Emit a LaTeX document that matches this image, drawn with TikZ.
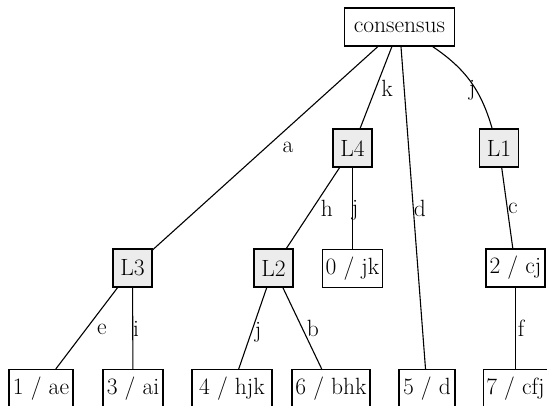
\documentclass[tikz,border=0pt]{standalone}
\usepackage{fontspec}
\usetikzlibrary{positioning}

\begin{document}
\begin{tikzpicture}[x=1pt, y=1pt, line width=1.1pt,
  leafstyle/.style = {rectangle, draw, minimum height=38pt, inner xsep=3pt},
  innerstyle/.style = {leafstyle, fill=gray!15, minimum width=39pt},
  labelstyle/.style = {inner sep=0pt}]
  \tikzstyle{every node}=[font=\rmfamily\fontsize{23.5}{27}\selectfont]
  \useasboundingbox (0,0) rectangle (547,406);

  % root
  \node[leafstyle, minimum width=110pt] (consensus) at (399.5,379) {consensus};

  % inner nodes
  \node[innerstyle] (L4) at (352.5,258) {L4};
  \node[innerstyle] (L1) at (499,258) {L1};
  \node[innerstyle] (L3) at (132.5,138) {L3};
  \node[innerstyle] (L2) at (273.5,138) {L2};

  % leaves, middle row
  \node[leafstyle, minimum width=59pt] (jk0) at (352.5,137.5) {0 / jk};
  \node[leafstyle, minimum width=59pt] (cj2) at (515.5,138) {2 / cj};

  % leaves, bottom row
  \node[leafstyle, minimum width=64pt] (ae1) at (41,17.5) {1 / ae};
  \node[leafstyle, minimum width=60pt] (ai3) at (133,17.5) {3 / ai};
  \node[leafstyle, minimum width=80pt] (hjk4) at (232,17.5) {4 / hjk};
  \node[leafstyle, minimum width=78pt] (bhk6) at (331,17.5) {6 / bhk};
  \node[leafstyle, minimum width=56pt] (d5) at (427,17.5) {5 / d};
  \node[leafstyle, minimum width=62pt] (cfj7) at (515.5,17.5) {7 / cfj};

  % edges
  \draw (consensus) -- (L3) node[labelstyle] at (288,259) {a};
  \draw (consensus) -- (L4) node[labelstyle] at (387,318) {k};
  \draw (consensus) -- (d5) node[labelstyle] at (420,198) {d};
  \draw (consensus) to[bend left=20] (L1) node[labelstyle] at (472,316) {j};
  \draw (L4) -- (L2) node[labelstyle] at (327,198) {h};
  \draw (L4) -- (jk0) node[labelstyle] at (355,196) {j};
  \draw (L1) -- (cj2) node[labelstyle] at (513,198) {c};
  \draw (L3) -- (ae1) node[labelstyle] at (102,77) {e};
  \draw (L3) -- (ai3) node[labelstyle] at (136,77) {i};
  \draw (L2) -- (hjk4) node[labelstyle] at (258,74) {j};
  \draw (L2) -- (bhk6) node[labelstyle] at (313,78) {b};
  \draw (cj2) -- (cfj7) node[labelstyle] at (521,78) {f};

\end{tikzpicture}
\end{document}
